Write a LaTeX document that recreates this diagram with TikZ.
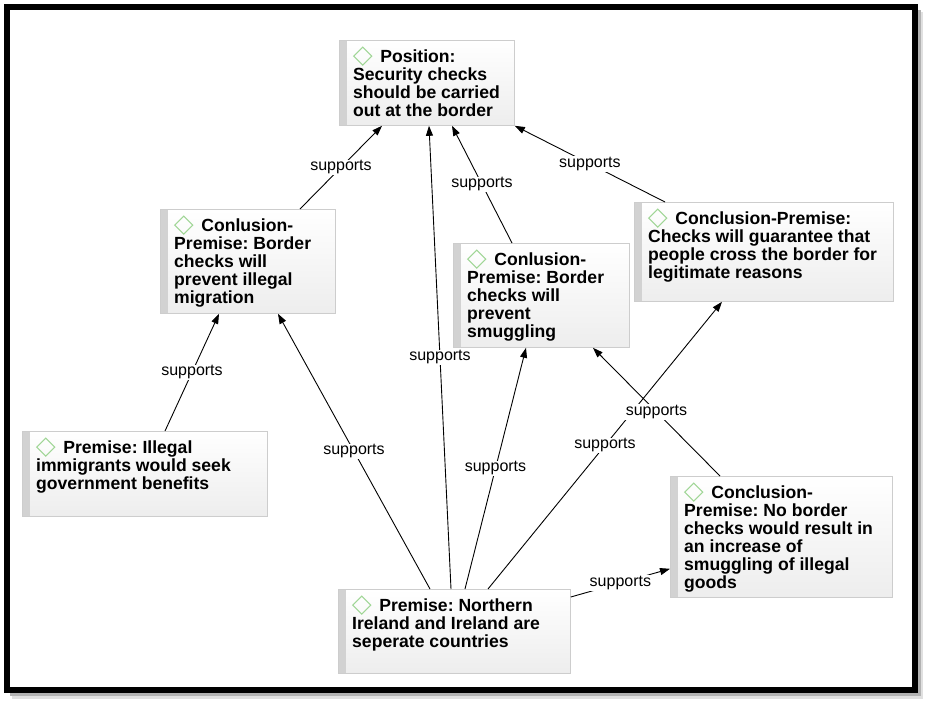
\documentclass[tikz,border=0pt]{standalone}
\usepackage{fontspec}
\setmainfont{Liberation Sans}
\usetikzlibrary{arrows.meta,calc}
\definecolor{dgreen}{RGB}{160,214,150}
\definecolor{barg}{RGB}{210,210,210}
\definecolor{boxline}{RGB}{205,205,205}
\newcommand\dmd{\tikz[x=1pt,y=1pt,baseline=0pt]\draw[dgreen,line width=1.1pt] (0,6)--(9,15)--(18,6)--(9,-3)--cycle;}
\frenchspacing
\tikzset{
  box/.style={draw=boxline, line width=0.8pt, top color=white, bottom color=black!7,
    anchor=north west, inner sep=0pt,
    path picture={\fill[barg] (path picture bounding box.north west) rectangle ([xshift=8pt]path picture bounding box.south west);}},
  txt/.style={anchor=north west, inner sep=0pt, align=left, font=\bfseries\fontsize{17.6}{18}\selectfont},
  lbl/.style={fill=white, inner sep=1pt, font=\fontsize{16}{18}\selectfont},
  arr/.style={line width=0.9pt, -{Triangle[length=10pt,width=7pt]}},
}
\begin{document}
\begin{tikzpicture}[x=1pt,y=-1pt]
\useasboundingbox (0,0) rectangle (930,706);
% frame with shadow
\fill[black!12] (12,12) rectangle (923,699);
\fill[black!30] (10,10) rectangle (921,696);
\fill[white] (4,4) rectangle (918,693);
\draw[black, line width=6pt] (7,7) rectangle (915,690);

% boxes
\node[box, minimum width=175pt, minimum height=85pt] (pos) at (339,40) {};
\node[box, minimum width=175pt, minimum height=104pt] (lcp) at (160,209) {};
\node[box, minimum width=176pt, minimum height=104pt] (scp) at (453,243) {};
\node[box, minimum width=259pt, minimum height=99pt] (rcp) at (634,202) {};
\node[box, minimum width=245pt, minimum height=85pt] (pil) at (22,431) {};
\node[box, minimum width=222pt, minimum height=121pt] (nbc) at (670,476) {};
\node[box, minimum width=232pt, minimum height=84pt] (ni) at (338,589) {};

% texts
\node[txt] (tpos) at ($(pos.north west)+(14,6)$) {\rule{0pt}{16pt}\dmd\hspace{8pt}Position:\\Security checks\\should be carried\\out at the border};
\node[txt] (tlcp) at ($(lcp.north west)+(14,6)$) {\rule{0pt}{16pt}\dmd\hspace{8pt}Conlusion-\\Premise: Border\\checks will\\prevent illegal\\migration};
\node[txt] (tscp) at ($(scp.north west)+(14,6)$) {\rule{0pt}{16pt}\dmd\hspace{8pt}Conlusion-\\Premise: Border\\checks will\\prevent\\smuggling};
\node[txt] (trcp) at ($(rcp.north west)+(14,6)$) {\rule{0pt}{16pt}\dmd\hspace{8pt}Conclusion-Premise:\\Checks will guarantee that\\people cross the border for\\legitimate reasons};
\node[txt] (tpil) at ($(pil.north west)+(14,6)$) {\rule{0pt}{16pt}\dmd\hspace{8pt}Premise: Illegal\\immigrants would seek\\government benefits};
\node[txt] (tnbc) at ($(nbc.north west)+(14,6)$) {\rule{0pt}{16pt}\dmd\hspace{8pt}Conclusion-\\Premise: No border\\checks would result in\\an increase of\\smuggling of illegal\\goods};
\node[txt] (tni) at ($(ni.north west)+(14,6)$) {\rule{0pt}{16pt}\dmd\hspace{8pt}Premise: Northern\\Ireland and Ireland are\\seperate countries};

% connectors
\draw[arr] ($(lcp.north west)+(140,0)$) -- node[lbl]{supports} ($(pos.south west)+(43,0)$);
\draw[arr] ($(ni.north west)+(113,0)$) -- node[lbl]{supports} ($(pos.south west)+(90,0)$);
\draw[arr] ($(scp.north west)+(59,0)$) -- node[lbl]{supports} ($(pos.south west)+(113,0)$);
\draw[arr] ($(rcp.north west)+(31,0)$) -- node[lbl]{supports} (pos.south east);
\draw[arr] ($(pil.north west)+(143,0)$) -- node[lbl]{supports} ($(lcp.south west)+(59,0)$);
\draw[arr] ($(ni.north west)+(92,0)$) -- node[lbl]{supports} ($(lcp.south west)+(118,0)$);
\draw[arr] ($(ni.north west)+(127,0)$) -- node[lbl]{supports} ($(scp.south west)+(73,0)$);
\draw[arr] ($(ni.north west)+(150,0)$) -- node[lbl]{supports} ($(rcp.south west)+(88,0)$);
\draw[arr] ($(nbc.north west)+(50,0)$) -- node[lbl]{supports} ($(scp.south west)+(140,0)$);
\draw[arr] ($(ni.north east)+(0,8)$) -- node[lbl]{supports} ($(nbc.south west)+(0,-29)$);
\end{tikzpicture}
\end{document}
